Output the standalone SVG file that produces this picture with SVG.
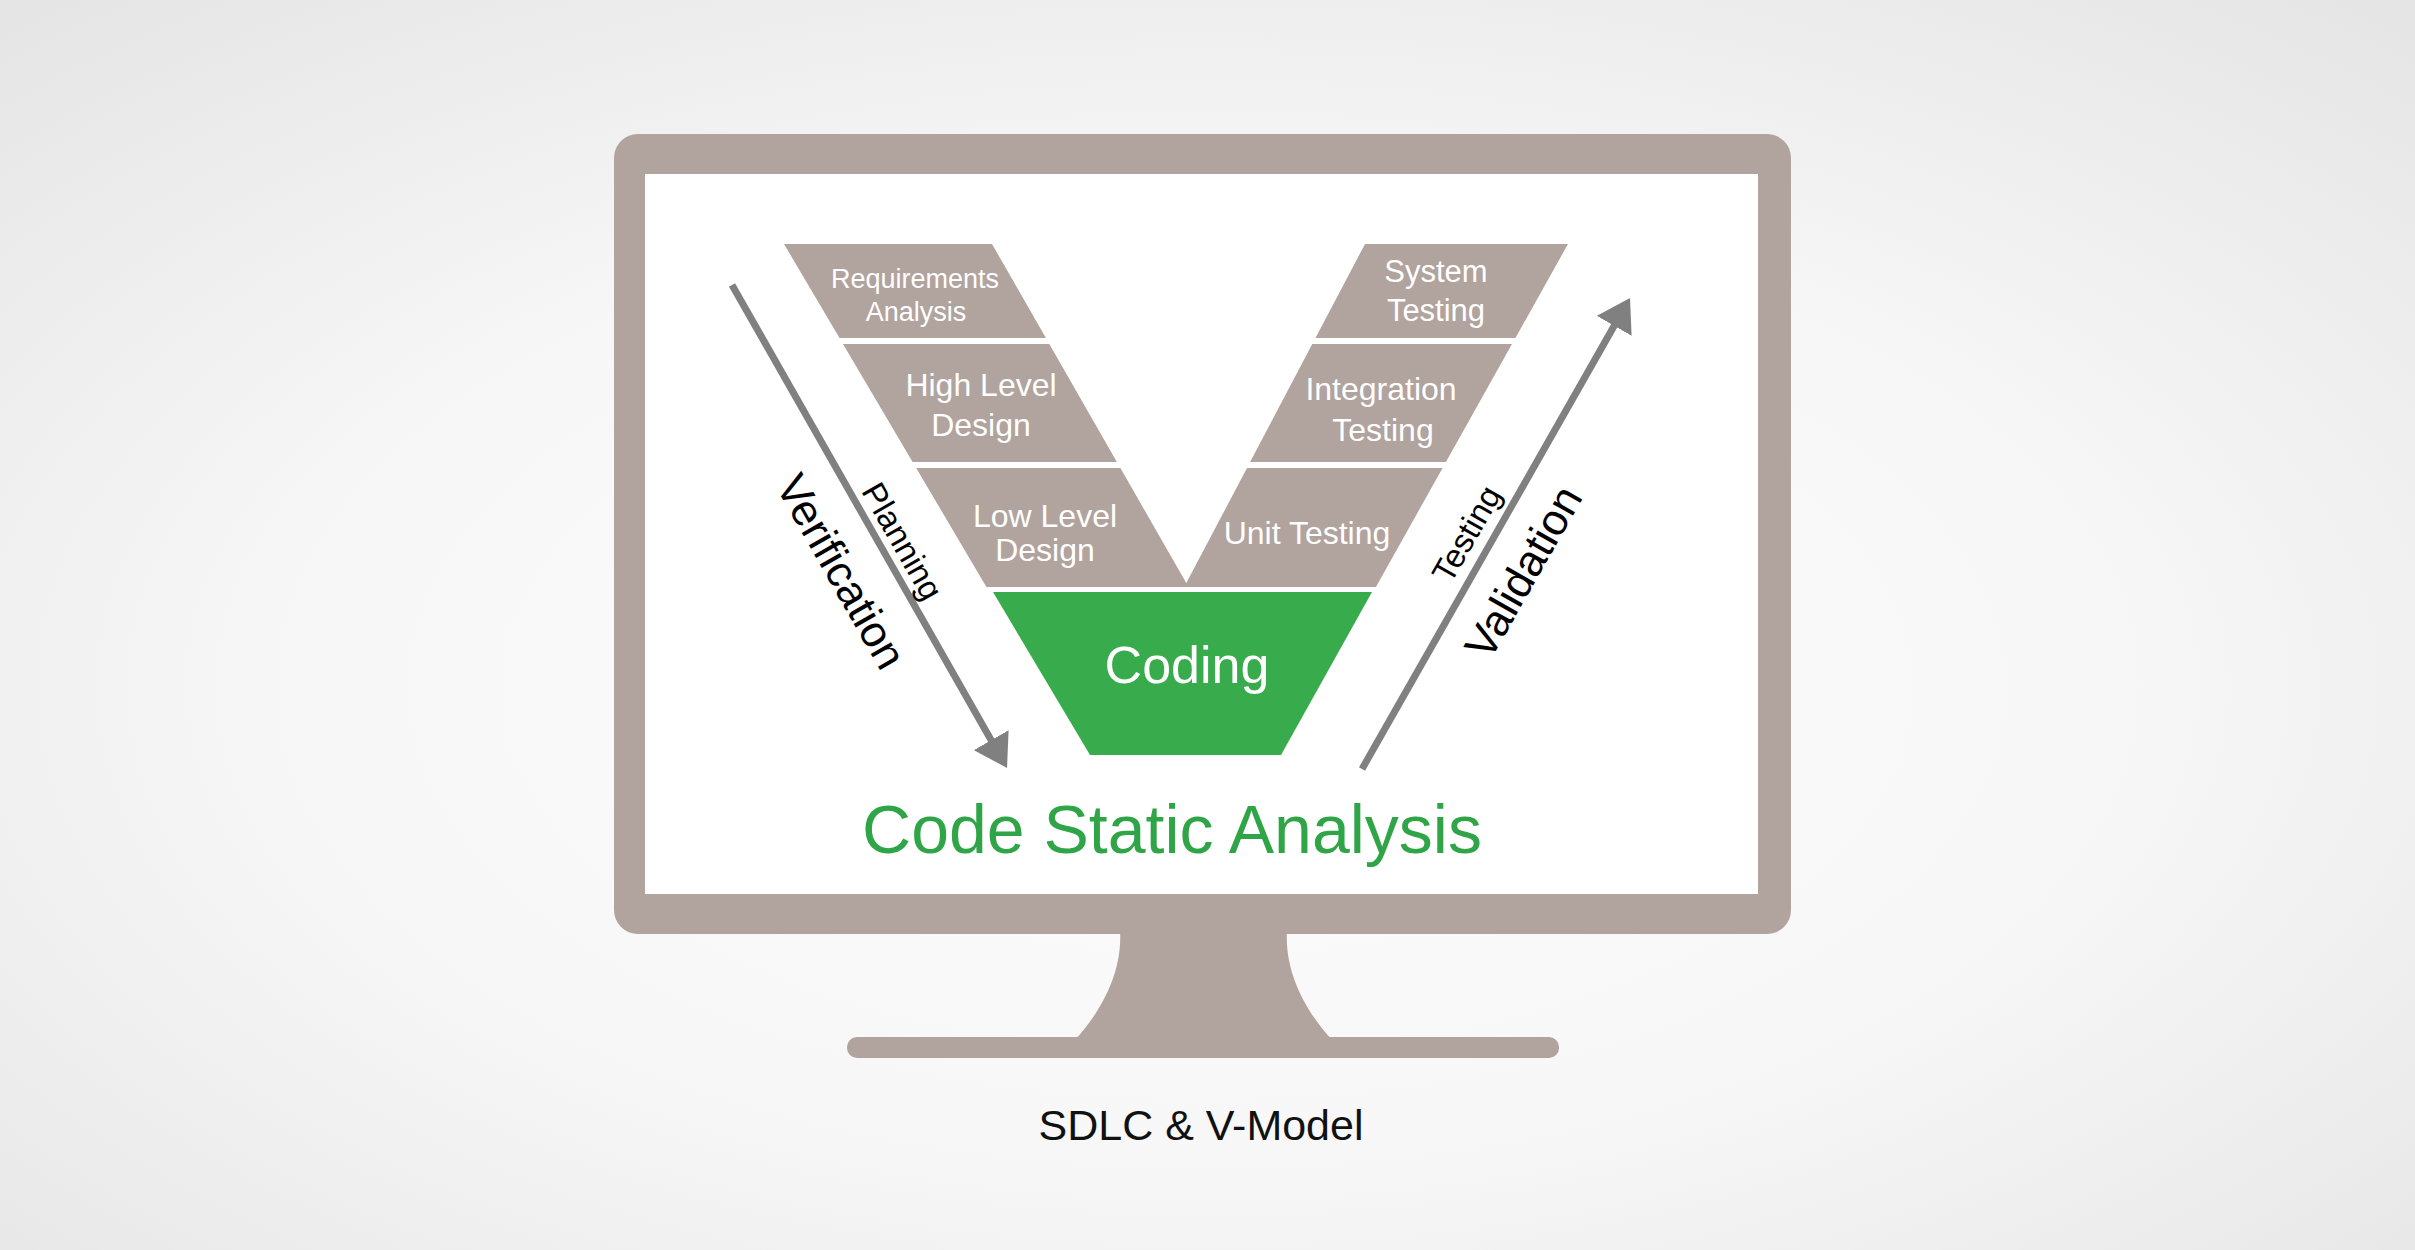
<svg xmlns="http://www.w3.org/2000/svg" width="2415" height="1250" viewBox="0 0 2415 1250">
<defs>
<radialGradient id="bg" cx="50%" cy="55%" r="75%">
<stop offset="0" stop-color="#fdfdfd"/>
<stop offset="0.5" stop-color="#f7f7f7"/>
<stop offset="1" stop-color="#e4e4e4"/>
</radialGradient>
<marker id="ah" viewBox="0 0 32 40" refX="2" refY="20" markerWidth="32" markerHeight="40" markerUnits="userSpaceOnUse" orient="auto">
<path d="M0,0 L32,20 L0,40 Z" fill="#808080"/>
</marker>
<style>
.frame{fill:#b1a39e}
.step{fill:#b1a39e}
.code{fill:#38ac4c}
.wt{font-family:"Liberation Sans",Arial,sans-serif;fill:#ffffff;text-anchor:middle}
.bt{font-family:"Liberation Sans",Arial,sans-serif;fill:#000000;text-anchor:middle}
.arr{stroke:#808080;stroke-width:7;fill:none}
</style>
</defs>
<rect x="0" y="0" width="2415" height="1250" fill="url(#bg)"/>
<g id="monitor">
<path class="frame" d="M1120,930 L1287,930 C1284,975 1309,1015 1332,1040 L1075,1040 C1098,1015 1123,975 1120,930 Z"/>
<rect class="frame" x="847" y="1037" width="712" height="21" rx="10"/>
<rect class="frame" x="614" y="134" width="1177" height="800" rx="24"/>
<rect x="645" y="174" width="1113" height="720" fill="#ffffff"/>
</g>
<g id="node-req">
<polygon class="step" points="784,244 992,244 1045.9,338 839.5,338"/>
<text class="wt" font-size="27" x="915" y="288">Requirements</text>
<text class="wt" font-size="27" x="916" y="321">Analysis</text>
</g>
<g id="node-hld">
<polygon class="step" points="843,344 1049.3,344 1116.9,462 912.6,462"/>
<text class="wt" font-size="32" x="981" y="396">High Level</text>
<text class="wt" font-size="32" x="981" y="436">Design</text>
</g>
<g id="node-lld">
<polygon class="step" points="916.2,468 1120.4,468 1186.3,583.1 1186.8,583.1 1186.8,587 986.4,587"/>
<text class="wt" font-size="32" x="1045" y="527">Low Level</text>
<text class="wt" font-size="32" x="1045" y="561">Design</text>
</g>
<g id="node-unit">
<polygon class="step" points="1247,468 1442.6,468 1375.9,587 1185.8,587 1185.8,583.1 1186.3,583.1"/>
<text class="wt" font-size="32" x="1307" y="544">Unit Testing</text>
</g>
<g id="node-integration">
<polygon class="step" points="1312.3,344 1512,344 1445.9,462 1250.1,462"/>
<text class="wt" font-size="32" x="1381" y="400">Integration</text>
<text class="wt" font-size="32" x="1383" y="441">Testing</text>
</g>
<g id="node-system">
<polygon class="step" points="1365,244 1568,244 1515.4,338 1315.5,338"/>
<text class="wt" font-size="31" x="1436" y="282">System</text>
<text class="wt" font-size="31" x="1436" y="321">Testing</text>
</g>
<g id="node-coding">
<polygon class="code" points="993,592 1372,592 1281,755 1090,755"/>
<text class="wt" font-size="52" x="1187" y="683">Coding</text>
</g>
<g id="connectors">
<line class="arr" x1="732" y1="285" x2="992.2" y2="741.9" marker-end="url(#ah)"/>
<line class="arr" x1="1362" y1="769" x2="1615.2" y2="324.1" marker-end="url(#ah)"/>
</g>
<g id="arrow-labels">
<text class="bt" font-size="33" transform="translate(883.9,551.8) rotate(60.34)" x="0" y="-10">Planning</text>
<text class="bt" font-size="44" transform="translate(881.9,548.3) rotate(60.34)" x="0" y="62">Verification</text>
<text class="bt" font-size="33" transform="translate(1488.6,546.5) rotate(-60.36)" x="0" y="-14">Testing</text>
<text class="bt" font-size="44" transform="translate(1486.1,550.8) rotate(-60.36)" x="0" y="58">Validation</text>
</g>
<text id="subtitle" x="1172" y="853" font-family="'Liberation Sans',Arial,sans-serif" font-size="68" fill="#2fa548" text-anchor="middle">Code Static Analysis</text>
<text id="title" x="1201" y="1140" font-family="'Liberation Sans',Arial,sans-serif" font-size="43" fill="#111111" text-anchor="middle">SDLC &amp; V-Model</text>
</svg>
